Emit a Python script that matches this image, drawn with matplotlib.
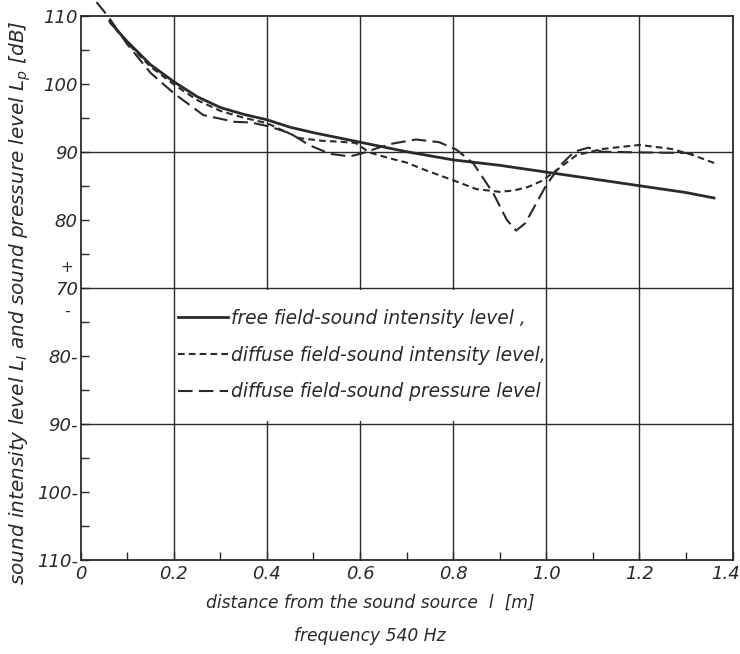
import numpy as np
import matplotlib
matplotlib.use("Agg")
import matplotlib.pyplot as plt
import matplotlib.transforms as mtransforms
from matplotlib.patches import Rectangle

plt.rcParams['font.family'] = ['DejaVu Sans']
plt.rcParams['font.style'] = 'italic'
plt.rcParams['mathtext.fontset'] = 'dejavusans'

# free field - sound intensity level
free_x = [0.065, 0.1, 0.15, 0.2, 0.25, 0.3, 0.35, 0.4, 0.45, 0.5, 0.55, 0.6,
          0.7, 0.8, 0.9, 1.0, 1.1, 1.2, 1.3, 1.36]
free_y = [108.9, 106.2, 102.8, 100.3, 98.1, 96.5, 95.5, 94.7, 93.6, 92.8, 92.1, 91.4,
          90.0, 88.8, 88.0, 87.0, 86.0, 85.0, 84.0, 83.2]

# diffuse field - sound intensity level
dint_x = [0.06, 0.1, 0.15, 0.2, 0.25, 0.3, 0.35, 0.4, 0.47, 0.52, 0.55, 0.59,
          0.62, 0.66, 0.7, 0.74, 0.8, 0.85, 0.9, 0.93, 0.96, 0.99, 1.02, 1.065,
          1.12, 1.2, 1.27, 1.315, 1.366]
dint_y = [109.3, 106.0, 102.5, 99.9, 97.6, 96.0, 95.0, 94.2, 92.0, 91.6, 91.5, 91.3,
          89.9, 89.1, 88.4, 87.3, 85.8, 84.5, 84.1, 84.3, 84.8, 85.7, 87.2, 89.5,
          90.4, 91.0, 90.4, 89.5, 88.2]

# diffuse field - sound pressure level
dpr_x = [0.034, 0.06, 0.1, 0.15, 0.2, 0.263, 0.33, 0.365, 0.406, 0.45, 0.49, 0.535,
         0.578, 0.606, 0.64, 0.67, 0.72, 0.77, 0.807, 0.843, 0.886, 0.915, 0.935,
         0.955, 0.975, 1.0, 1.03, 1.06, 1.09, 1.12, 1.2, 1.315]
dpr_y = [112.0, 109.8, 105.8, 101.6, 98.6, 95.4, 94.4, 94.3, 93.7, 92.7, 91.0, 89.7,
         89.3, 89.8, 90.6, 91.2, 91.8, 91.4, 90.3, 88.3, 83.9, 80.0, 78.4,
         79.5, 82.0, 85.1, 88.0, 90.0, 90.6, 90.0, 89.9, 89.8]

x_ticks = [0, 0.2, 0.4, 0.6, 0.8, 1.0, 1.2, 1.4]
x_labels = ['0', '0.2', '0.4', '0.6', '0.8', '1.0', '1.2', '1.4']
# upper half: L_p scale, lower half: L_I scale running the other way
y_ticks = [30, 40, 50, 60, 70, 80, 90, 100, 110]
y_labels = ['110-', '100-', '90-', '80-', '70', '80', '90', '100', '110']

labels = ['free field-sound intensity level ,',
          'diffuse field-sound intensity level,',
          'diffuse field-sound pressure level']

ink = '#2a2a2a'

fig = plt.figure(figsize=(7.4, 6.54), dpi=100)
ax = fig.add_axes([0.109, 0.144, 0.881, 0.832])

for gx in [0.2, 0.4, 0.6, 0.8, 1.0, 1.2]:
    ax.axvline(gx, color=ink, lw=1.0, zorder=1)
for gy in [90, 70, 50]:
    ax.axhline(gy, color=ink, lw=1.0, zorder=1)

# white area behind the legend hides the grid
ax.add_patch(Rectangle((0.206, 50.4), 0.786, 19.2, facecolor='white',
                       edgecolor='none', zorder=1.5))

l1, = ax.plot(free_x, free_y, color=ink, lw=2.0, zorder=3, clip_on=False)
l2, = ax.plot(dint_x, dint_y, color=ink, lw=1.5, ls=(0, (3.2, 2.0)), zorder=3, clip_on=False)
l3, = ax.plot(dpr_x, dpr_y, color=ink, lw=1.5, ls=(0, (7, 3)), zorder=3, clip_on=False)

ax.set_xlim(0, 1.4)
ax.set_ylim(30, 110)
ax.set_xticks(x_ticks)
ax.set_xticklabels(x_labels)
ax.set_xticks(np.arange(0.1, 1.4, 0.2), minor=True)
ax.set_yticks(y_ticks)
ax.set_yticklabels(y_labels)
ax.set_yticks(np.arange(35, 110, 10), minor=True)
ax.tick_params(which='both', direction='in', length=6, width=1.0, colors=ink,
               labelsize=13)
ax.tick_params(axis='x', pad=4)
ax.tick_params(axis='y', pad=2)
for s in ax.spines.values():
    s.set_color(ink)
    s.set_linewidth(1.3)

# keep the last x label inside the figure
last = ax.get_xticklabels()[-1]
last.set_transform(last.get_transform() +
                   mtransforms.ScaledTranslation(-7 / 100, 0, fig.dpi_scale_trans))

trans = mtransforms.blended_transform_factory(ax.transAxes, ax.transData)
ax.text(-0.021, 73.0, '+', transform=trans, ha='center', va='center', fontsize=11, color=ink)
ax.text(-0.021, 66.5, '-', transform=trans, ha='center', va='center', fontsize=11, color=ink)

ax.legend([l1, l2, l3], labels, loc='upper left', bbox_to_anchor=(0.149, 0.461),
          frameon=False, fontsize=13.4, handlelength=2.7, handletextpad=0.15,
          labelspacing=0.95, borderpad=0, borderaxespad=0, labelcolor=ink)

fig.text(0.5, 0.078, 'distance from the sound source  l  [m]', ha='center',
         va='center', fontsize=12.3, color=ink)
fig.text(0.5, 0.027, 'frequency 540 Hz', ha='center', va='center', fontsize=12.3, color=ink)
fig.text(0.027, 0.538, r'sound intensity level $L_I$ and sound pressure level $L_p$ [dB]',
         rotation=90, ha='center', va='center', fontsize=14.4, color=ink)

fig.savefig('out.png', dpi=100)
